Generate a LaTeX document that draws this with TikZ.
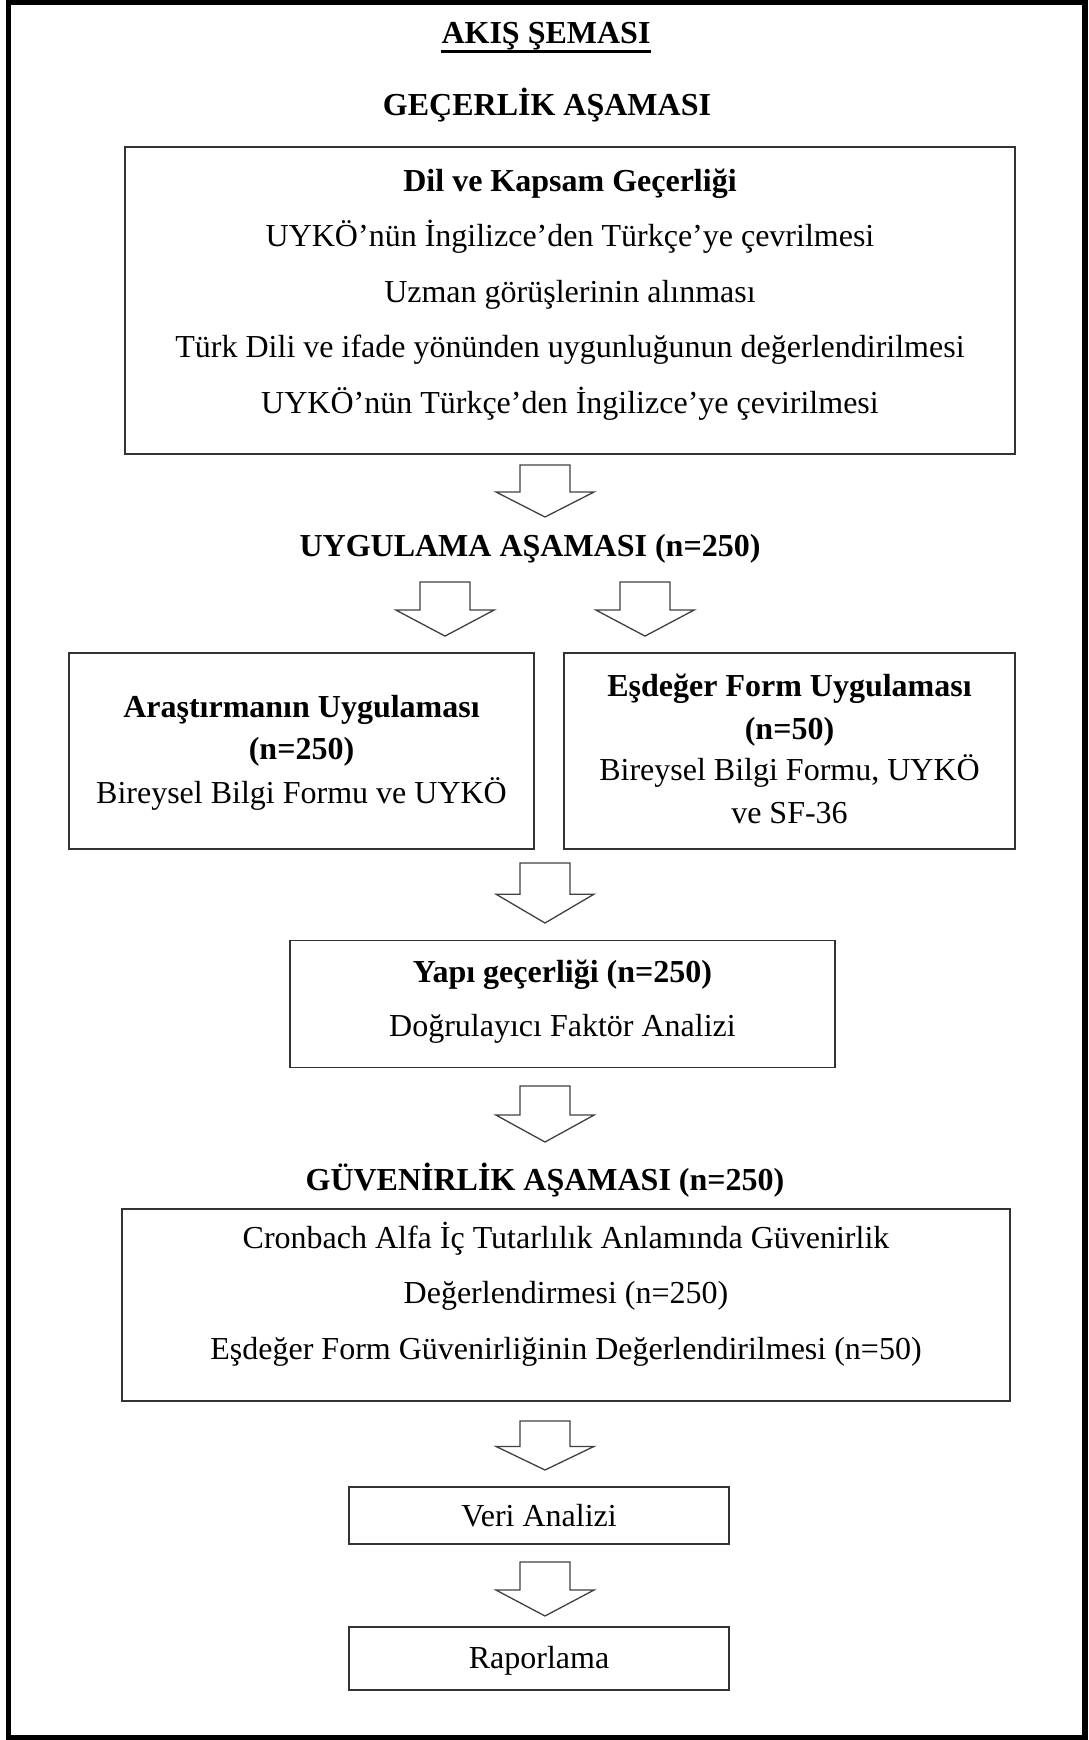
\documentclass[tikz,border=0pt]{standalone}
\usepackage{fontspec}
\setmainfont{Liberation Serif}
\begin{document}
\begin{tikzpicture}[x=1pt,y=-1pt,
  txt/.style={inner sep=0pt,anchor=base,font=\fontsize{32}{38}\selectfont},
  btxt/.style={txt,font=\fontsize{32}{38}\selectfont\bfseries},
  box/.style={draw=black!80,line width=1.4pt,inner sep=0pt},
  arrowline/.style={draw=black!75,line width=1.3pt,line join=miter},
  downarr/.pic={\draw[arrowline] (-25,0) -- (25,0) -- (25,27) -- (49,27) -- (0,52) -- (-49,27) -- (-25,27) -- cycle;}
]
\useasboundingbox (0,0) rectangle (1089,1740);
% outer frame
\draw[line width=5.5pt] (8.5,2.5) rectangle (1085,1738);

% titles
\node[btxt] (title) at (546,43) {AKIŞ ŞEMASI};
\draw[line width=3pt] ([yshift=-8pt]title.base west) -- ([yshift=-8pt]title.base east);
\node[btxt] (gecerlik) at (547,115) {GEÇERLİK AŞAMASI};

% box 1
\node[box,minimum width=890,minimum height=307] (b1) at (570,300.5) {};
\node[btxt] (b1l1) at (570,191) {Dil ve Kapsam Geçerliği};
\node[txt] (b1l2) at (570,246) {UYKÖ’nün İngilizce’den Türkçe’ye çevrilmesi};
\node[txt] (b1l3) at (570,302) {Uzman görüşlerinin alınması};
\node[txt] (b1l4) at (570,357) {Türk Dili ve ifade yönünden uygunluğunun değerlendirilmesi};
\node[txt] (b1l5) at (570,413) {UYKÖ’nün Türkçe’den İngilizce’ye çevirilmesi};

\pic at (545,465) {downarr};
\node[btxt] (uyg) at (530,556) {UYGULAMA AŞAMASI (n=250)};
\pic[yscale=1.04] at (445,582) {downarr};
\pic[yscale=1.04] at (645,582) {downarr};

% left box
\node[box,minimum width=465,minimum height=196] (bl) at (301.5,751) {};
\node[btxt] (bll1) at (301.5,717) {Araştırmanın Uygulaması};
\node[btxt] (bll2) at (301.5,759) {(n=250)};
\node[txt] (bll3) at (301.5,803) {Bireysel Bilgi Formu ve UYKÖ};

% right box
\node[box,minimum width=451,minimum height=196] (br) at (789.5,751) {};
\node[btxt] (brl1) at (789.5,696) {Eşdeğer Form Uygulaması};
\node[btxt] (brl2) at (789.5,739) {(n=50)};
\node[txt] (brl3) at (789.5,780) {Bireysel Bilgi Formu, UYKÖ};
\node[txt] (brl4) at (789.5,823) {ve SF-36};

\pic[yscale=1.154] at (545,863) {downarr};

% yapi box
\node[box,minimum width=545,minimum height=127] (by) at (562.5,1004) {};
\node[btxt] (byl1) at (562.5,982) {Yapı geçerliği (n=250)};
\node[txt] (byl2) at (562.5,1036) {Doğrulayıcı Faktör Analizi};

\pic[yscale=1.077] at (545,1086) {downarr};
\node[btxt] (guv) at (545,1190) {GÜVENİRLİK AŞAMASI (n=250)};

% box 4
\node[box,minimum width=888,minimum height=192] (b4) at (566,1305) {};
\node[txt] (b4l1) at (566,1248) {Cronbach Alfa İç Tutarlılık Anlamında Güvenirlik};
\node[txt] (b4l2) at (566,1303) {Değerlendirmesi (n=250)};
\node[txt] (b4l3) at (566,1359) {Eşdeğer Form Güvenirliğinin Değerlendirilmesi (n=50)};

\pic[yscale=0.942] at (545,1421) {downarr};
\node[box,minimum width=380,minimum height=57] (bv) at (539,1515.5) {};
\node[txt] (bvt) at (539,1526) {Veri Analizi};

\pic[yscale=1.038] at (545,1562) {downarr};
\node[box,minimum width=380,minimum height=63] (bra) at (539,1658.5) {};
\node[txt] (brat) at (539,1668) {Raporlama};
\end{tikzpicture}
\end{document}
